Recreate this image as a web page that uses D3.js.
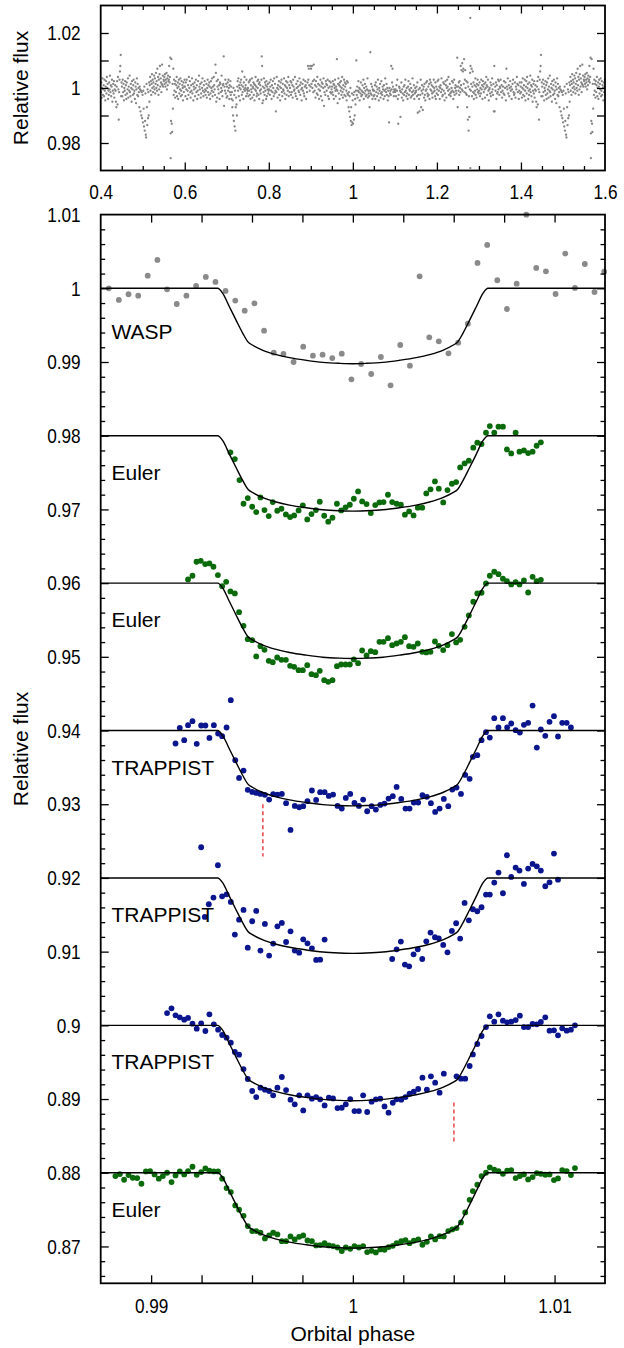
<!DOCTYPE html>
<html>
<head>
<meta charset="utf-8">
<script src="https://cdn.jsdelivr.net/npm/d3@7"></script>
<style>
  html, body { margin: 0; padding: 0; background: #fff; }
  svg { display: block; }
</style>
</head>
<body>
<svg id="chart" width="624" height="1348"></svg>
<script>
// ---------------------------------------------------------------------------
// Survey photometry, phase-folded; one cycle from phase 0.4 to 1.4.
// Each string covers 0.05 in phase, one character per measurement:
// flux = 1 + (charCode - 77) * 0.0005   ('M' = 1.000)
// ---------------------------------------------------------------------------
const surveySegments = [
  "JQFMTHLOGSKDNRIUMPEKHQLVJOGNSCKPIRFLOKC?NRAUL6JSY]eGQ",
  "NGSJPDMKRHOEQILTFNKVJGPMCRLHOSIKEQNBLTHPGMJ?NL<K9J7H",
  "4K>1N.5I+)P?2L7J9QCOUKRHPWMSJQNVLTIPXMRK[OUHSLW]NTQJP^OVNS",
  "RUPWNSQXLTOVRS]QUc,5b3-P>[HSKPFRJOUGMQENSIPLTGKRHOMDQJNS",
  "NGQLSEKOHUMRJFOKTIPDNLQGMSJOEKRHVNLPFIQMTKGOJRLH",
  "KPFMSJOHQNEIRMKTGNJUOLH^XCRFNSLIOEQPJMVKGOPd@NKSIPF",
  "NGQKSMEOJRHNEJ?D9M5H1K.?FA9NRKTGOMDQLSOHYJNEQLUKMOGSLIK",
  "MGQKRHSEOLJTFNMQHPDLOUKNGIRMSHPEQKOILSd]BNDJTMHQKOERGNLPIK",
  "LQHNSKEOJRMGTIPK<JUMFOLRHNDQMSJGPLKTIOENRHMQKUGOJ",
  "MRHQJOFSNKLUIGPMERNKJTOHQLDMPKSIGNROEMJQ]S[OK]N",
  "[P]MRJ^SKOFRNIUHPLEOKSGNQDPMT@JNHRPKOSGMERNJQIL",
  "NJRHPEOMSKGNLbKBPTIOEQNKRHMUJFOLSHQNGPKDRIQH?J<G8M5?2I4D",
  "3H6J9EAKaHNFKRJMDLIQGKHOJSEMIPKGNHLTFKIG?KgIPHNELKG",
  "KHOEQJNGLSIDMKPFIRJHNLEOKGTLJPHMDKG4MIKH]LQ[NJGLK",
  "JLGOKSE3HNMK8JQFLIDNHOJSKGMIENRHLKPFMGJTHKOEIMJ",
  "KNGQ;HLE<MHS?KOI=LNFPHDKQLRIGNHPESLQKOIFNJSMKGQENI",
  "LRHSKNEMOJTLGHQKPDIROFMSNKUHLPIGJMRKQEJSHMOKINc?",
  "NKQHRMJ]OZL_KY[PbJSZMIRH?Q6N.G8LX]KP[GNYJQEIOKTHNFPLSJOI",
  "KQGMISLOERNJPLFQMUOHNSKDLMIQGOJTLHP<]<NKQEOIJSLRHN",
  "MSJOFKNIRHMQD[NLTIOGMRKNELPSJHIQFNLUPJOEKQIN"
];
const surveyOutliers = [[0.5665, 0.9745], [1.2795, 1.0255], [1.2795, 0.9709]];

// ---------------------------------------------------------------------------
// Follow-up light curves (phase, relative flux); each offset below the last
// ---------------------------------------------------------------------------
const waspPhase = [0.98790,0.98840,0.98888,0.98936,0.98983,0.99031,0.99079,0.99127,0.99175,0.99223,0.99271,0.99319,0.99369,0.99417,0.99464,0.99512,0.99560,0.99608,0.99656,0.99706,0.99754,0.99802,0.99850,0.99898,0.99945,0.99993,1.00041,1.00091,1.00139,1.00187,1.00235,1.00283,1.00331,1.00379,1.00426,1.00474,1.00522,1.00570,1.00618,1.00666,1.00716,1.00764,1.00812,1.00860,1.00909,1.00957,1.01005,1.01053,1.01101,1.01150,1.01198,1.01246];
const waspFlux = [1.00000,0.99842,0.99919,0.99900,1.00172,1.00385,0.99986,0.99787,0.99900,1.00032,1.00154,1.00086,0.99964,0.99833,0.99697,0.99796,0.99425,0.99127,0.99109,0.99000,0.99208,0.99086,0.99100,0.99054,0.99113,0.98765,0.98973,0.98837,0.99068,0.98683,0.99231,0.98950,1.00163,0.99335,0.99281,0.99118,0.99262,0.99520,1.00344,1.00588,1.00109,0.99719,1.00063,1.00999,1.00276,1.00231,0.99923,1.00471,1.00005,1.00330,0.99950,1.00226];

const euler1Phase = [0.99393,0.99415,0.99438,0.99458,0.99479,0.99501,0.99521,0.99542,0.99562,0.99583,0.99603,0.99625,0.99646,0.99668,0.99689,0.99709,0.99731,0.99752,0.99774,0.99795,0.99817,0.99836,0.99858,0.99878,0.99899,0.99921,0.99942,0.99964,0.99985,1.00005,1.00026,1.00046,1.00068,1.00089,1.00111,1.00132,1.00152,1.00174,1.00195,1.00217,1.00238,1.00258,1.00279,1.00301,1.00322,1.00344,1.00364,1.00385,1.00407,1.00426,1.00448,1.00469,1.00491,1.00512,1.00532,1.00554,1.00575,1.00597,1.00617,1.00638,1.00660,1.00679,1.00701,1.00722,1.00744,1.00764,1.00785,1.00807,1.00826,1.00848,1.00869,1.00891,1.00911,1.00932];
const euler1Flux = [0.97774,0.97683,0.97398,0.97077,0.97154,0.97036,0.96964,0.97163,0.96991,0.96910,0.97100,0.96982,0.97009,0.96932,0.96896,0.96919,0.96986,0.97054,0.96864,0.96937,0.96991,0.97104,0.96914,0.96833,0.96887,0.97077,0.96986,0.97027,0.97063,0.97145,0.97244,0.97109,0.97072,0.96950,0.97059,0.97095,0.97100,0.97199,0.97100,0.97077,0.97063,0.96928,0.96973,0.96919,0.97023,0.97023,0.97217,0.97272,0.97380,0.97281,0.97095,0.97262,0.97348,0.97371,0.97570,0.97624,0.97661,0.97837,0.97905,0.97887,0.98041,0.98131,0.98041,0.98122,0.98122,0.97814,0.97760,0.98041,0.97783,0.97801,0.97765,0.97783,0.97864,0.97910];

const euler2Phase = [0.99183,0.99205,0.99225,0.99246,0.99268,0.99289,0.99309,0.99331,0.99352,0.99372,0.99393,0.99415,0.99436,0.99458,0.99479,0.99501,0.99521,0.99542,0.99562,0.99583,0.99603,0.99625,0.99646,0.99668,0.99689,0.99709,0.99731,0.99752,0.99774,0.99795,0.99817,0.99836,0.99858,0.99878,0.99899,0.99921,0.99942,0.99964,0.99985,1.00005,1.00026,1.00046,1.00068,1.00089,1.00111,1.00132,1.00152,1.00174,1.00195,1.00217,1.00238,1.00258,1.00279,1.00301,1.00322,1.00344,1.00364,1.00385,1.00407,1.00426,1.00448,1.00469,1.00491,1.00512,1.00532,1.00554,1.00575,1.00597,1.00617,1.00638,1.00660,1.00679,1.00701,1.00722,1.00744,1.00764,1.00785,1.00807,1.00826,1.00848,1.00869,1.00891,1.00911,1.00932];
const euler2Flux = [0.96050,0.96100,0.96290,0.96303,0.96258,0.96267,0.96222,0.96109,0.95959,0.96018,0.95887,0.95860,0.95606,0.95421,0.95240,0.95226,0.95005,0.95145,0.95095,0.94946,0.94928,0.94991,0.94959,0.94959,0.94878,0.94864,0.94819,0.94819,0.94887,0.94765,0.94751,0.94810,0.94683,0.94661,0.94683,0.94873,0.94896,0.94896,0.94896,0.94964,0.94914,0.95086,0.95018,0.95077,0.95063,0.95204,0.95204,0.95253,0.95158,0.95181,0.95204,0.95267,0.95145,0.95136,0.95181,0.95068,0.95059,0.95068,0.95208,0.95149,0.95091,0.95158,0.95308,0.95195,0.95231,0.95407,0.95561,0.95747,0.95860,0.95869,0.95995,0.96100,0.96154,0.96122,0.96059,0.96027,0.95982,0.96014,0.95982,0.96036,0.95873,0.96086,0.96027,0.96045];

const trappist1Phase = [0.99121,0.99142,0.99164,0.99183,0.99205,0.99226,0.99248,0.99269,0.99289,0.99311,0.99332,0.99352,0.99374,0.99395,0.99417,0.99436,0.99458,0.99479,0.99501,0.99521,0.99542,0.99564,0.99585,0.99605,0.99626,0.99648,0.99669,0.99691,0.99712,0.99734,0.99754,0.99775,0.99797,0.99818,0.99838,0.99860,0.99881,0.99902,0.99924,0.99945,0.99965,0.99987,1.00008,1.00030,1.00051,1.00071,1.00093,1.00114,1.00136,1.00157,1.00177,1.00198,1.00217,1.00240,1.00261,1.00281,1.00302,1.00324,1.00345,1.00367,1.00387,1.00408,1.00430,1.00451,1.00473,1.00493,1.00514,1.00536,1.00557,1.00579,1.00595,1.00617,1.00638,1.00660,1.00679,1.00701,1.00722,1.00744,1.00765,1.00785,1.00807,1.00828,1.00848,1.00869,1.00891,1.00912,1.00932,1.00954,1.00975,1.00997,1.01017,1.01038,1.01060,1.01081];
const trappist1Flux = [0.93824,0.94036,0.93869,0.94072,0.94127,0.93819,0.94068,0.94068,0.93900,0.94072,0.93959,0.93923,0.94041,0.94412,0.93597,0.93357,0.93457,0.93195,0.93167,0.93154,0.93140,0.93127,0.93063,0.93136,0.93131,0.93140,0.93014,0.92652,0.92977,0.92959,0.92973,0.93041,0.93186,0.93059,0.93163,0.93163,0.93113,0.93131,0.92977,0.92941,0.93086,0.93140,0.93018,0.92977,0.93063,0.92905,0.92973,0.92928,0.92991,0.93009,0.93077,0.93109,0.93235,0.93072,0.92941,0.92941,0.93023,0.93023,0.93122,0.93100,0.93014,0.92896,0.92941,0.93072,0.92973,0.93199,0.93226,0.93140,0.93398,0.93344,0.93643,0.93665,0.93869,0.93977,0.93905,0.94167,0.94041,0.94167,0.94041,0.94095,0.94005,0.93973,0.94077,0.94104,0.94339,0.93769,0.94014,0.93928,0.94118,0.94195,0.93919,0.94104,0.94104,0.94041];

const trappist2Phase = [0.99248,0.99266,0.99286,0.99309,0.99331,0.99352,0.99374,0.99395,0.99415,0.99436,0.99458,0.99479,0.99501,0.99521,0.99542,0.99564,0.99585,0.99605,0.99626,0.99648,0.99669,0.99691,0.99712,0.99734,0.99754,0.99775,0.99797,0.99818,0.99838,0.99860,1.00195,1.00217,1.00238,1.00258,1.00279,1.00301,1.00322,1.00344,1.00364,1.00385,1.00407,1.00426,1.00448,1.00469,1.00491,1.00512,1.00532,1.00554,1.00575,1.00595,1.00617,1.00638,1.00660,1.00679,1.00701,1.00722,1.00744,1.00764,1.00785,1.00807,1.00826,1.00848,1.00869,1.00891,1.00912,1.00932,1.00954,1.00975,1.00997,1.01017];
const trappist2Flux = [0.92416,0.91471,0.91643,0.91733,0.92172,0.91751,0.91778,0.91674,0.91231,0.91434,0.91566,0.91054,0.91412,0.91552,0.91014,0.91376,0.90946,0.91109,0.91344,0.91389,0.91131,0.91276,0.91014,0.90986,0.91167,0.91113,0.91045,0.90887,0.90891,0.91163,0.90900,0.91032,0.91136,0.90824,0.90801,0.90964,0.91032,0.90900,0.91140,0.91258,0.91195,0.91181,0.91091,0.90991,0.91281,0.91385,0.91177,0.91661,0.91425,0.91575,0.91548,0.91602,0.91774,0.91774,0.91937,0.92072,0.91792,0.92308,0.92014,0.92140,0.92100,0.91919,0.92127,0.92190,0.92158,0.92100,0.91887,0.91941,0.92330,0.91977];

const trappist3Phase = [0.99079,0.99101,0.99121,0.99142,0.99164,0.99183,0.99205,0.99226,0.99248,0.99269,0.99289,0.99311,0.99332,0.99352,0.99374,0.99395,0.99415,0.99436,0.99458,0.99479,0.99501,0.99521,0.99542,0.99564,0.99585,0.99605,0.99626,0.99648,0.99669,0.99691,0.99712,0.99734,0.99754,0.99775,0.99797,0.99818,0.99838,0.99860,0.99881,0.99902,0.99924,0.99945,0.99965,0.99987,1.00008,1.00030,1.00051,1.00071,1.00093,1.00114,1.00136,1.00157,1.00177,1.00198,1.00217,1.00240,1.00261,1.00281,1.00302,1.00324,1.00345,1.00367,1.00387,1.00408,1.00430,1.00451,1.00514,1.00536,1.00557,1.00579,1.00595,1.00617,1.00638,1.00660,1.00679,1.00701,1.00722,1.00744,1.00765,1.00785,1.00807,1.00828,1.00848,1.00869,1.00891,1.00912,1.00932,1.00954,1.00975,1.00997,1.01017,1.01038,1.01060,1.01081,1.01101];
const trappist3Flux = [0.90167,0.90231,0.90136,0.90109,0.90077,0.90100,0.90023,0.89955,0.90027,0.89923,0.90149,0.90014,0.89941,0.89869,0.89833,0.89765,0.89638,0.89602,0.89407,0.89272,0.89109,0.89027,0.89154,0.89127,0.89109,0.89050,0.89154,0.89299,0.89122,0.88991,0.88928,0.89050,0.88846,0.89050,0.89005,0.89027,0.88996,0.88914,0.89018,0.89009,0.88878,0.88882,0.88928,0.89000,0.88837,0.88837,0.89050,0.88824,0.88964,0.88996,0.89005,0.88900,0.88815,0.88950,0.88996,0.88991,0.89027,0.89072,0.89100,0.89136,0.89290,0.89127,0.89308,0.89222,0.89086,0.89344,0.89308,0.89276,0.89276,0.89448,0.89606,0.89747,0.89855,0.89977,0.90122,0.90050,0.90149,0.90063,0.90041,0.90050,0.90072,0.90131,0.89977,0.89977,0.90018,0.90014,0.90045,0.90109,0.89928,0.89932,0.89864,0.89959,0.89928,0.89941,0.90000];

const euler3Phase = [0.98823,0.98845,0.98866,0.98888,0.98909,0.98931,0.98952,0.98974,0.98995,0.99017,0.99038,0.99058,0.99079,0.99101,0.99121,0.99142,0.99164,0.99183,0.99205,0.99226,0.99248,0.99269,0.99289,0.99311,0.99332,0.99352,0.99374,0.99395,0.99417,0.99436,0.99458,0.99479,0.99501,0.99521,0.99542,0.99564,0.99585,0.99605,0.99626,0.99648,0.99669,0.99691,0.99712,0.99734,0.99754,0.99775,0.99797,0.99818,0.99838,0.99860,0.99881,0.99902,0.99924,0.99945,0.99965,0.99987,1.00008,1.00030,1.00051,1.00071,1.00093,1.00114,1.00136,1.00157,1.00177,1.00198,1.00217,1.00240,1.00261,1.00281,1.00302,1.00324,1.00345,1.00367,1.00387,1.00408,1.00430,1.00451,1.00473,1.00493,1.00514,1.00536,1.00557,1.00579,1.00595,1.00617,1.00638,1.00660,1.00679,1.00701,1.00722,1.00744,1.00765,1.00785,1.00807,1.00828,1.00848,1.00869,1.00891,1.00912,1.00932,1.00954,1.00975,1.00997,1.01017,1.01038,1.01060,1.01081,1.01101];
const euler3Flux = [0.87955,0.87982,0.87905,0.87968,0.87932,0.87928,0.87851,0.88018,0.88023,0.87977,0.87919,0.87955,0.88000,0.87873,0.87964,0.88018,0.87977,0.88023,0.88081,0.87973,0.88009,0.88059,0.88027,0.88018,0.88018,0.87919,0.87792,0.87738,0.87557,0.87498,0.87416,0.87276,0.87208,0.87208,0.87186,0.87109,0.87149,0.87186,0.87163,0.87072,0.87072,0.87136,0.87095,0.87131,0.87149,0.87081,0.87072,0.87014,0.87018,0.87045,0.87014,0.87005,0.86986,0.86937,0.86986,0.86968,0.87005,0.86986,0.87005,0.86923,0.86941,0.86919,0.86959,0.86955,0.86991,0.87009,0.87045,0.87072,0.87086,0.87045,0.87077,0.87095,0.87023,0.87063,0.87136,0.87095,0.87140,0.87136,0.87208,0.87231,0.87249,0.87326,0.87462,0.87633,0.87751,0.87837,0.87955,0.88000,0.88072,0.88041,0.88023,0.87986,0.88027,0.88036,0.87928,0.87955,0.87977,0.87910,0.87941,0.87995,0.87986,0.87973,0.87977,0.87900,0.87923,0.88036,0.88023,0.87968,0.88063];

// Transit model, flux change relative to the out-of-transit level
const modelPhase = [0.9875,0.99330,0.99355,0.99388,0.99421,0.99455,0.99480,0.99504,0.99554,0.99620,0.99686,0.99769,0.99851,0.99934,1.00000,1.00066,1.00149,1.00231,1.00314,1.00380,1.00446,1.00496,1.00520,1.00545,1.00579,1.00612,1.00645,1.00670,1.0125];
const modelDelta = [0,0,-0.00068,-0.00250,-0.00432,-0.00614,-0.00727,-0.00773,-0.00841,-0.00900,-0.00941,-0.00977,-0.01005,-0.01018,-0.01023,-0.01018,-0.01005,-0.00977,-0.00941,-0.00900,-0.00841,-0.00773,-0.00727,-0.00614,-0.00432,-0.00250,-0.00068,0,0];

// Light-curve order, instruments and out-of-transit levels
const curveInstruments = ["WASP", "Euler", "Euler", "TRAPPIST", "TRAPPIST", "TRAPPIST", "Euler"];
const curveBaselines = [1.00, 0.98, 0.96, 0.94, 0.92, 0.90, 0.88];
const curvePhases = [waspPhase, euler1Phase, euler2Phase, trappist1Phase, trappist2Phase, trappist3Phase, euler3Phase];
const curveFluxes = [waspFlux, euler1Flux, euler2Flux, trappist1Flux, trappist2Flux, trappist3Flux, euler3Flux];

// Dashed markers under two TRAPPIST light curves
const markerPhase = [0.99554, 1.00501];
const markerTop = [0.93000, 0.88954];
const markerBottom = [0.92290, 0.88400];

// Tick labels
const topXLabels = ["0.4", "0.6", "0.8", "1", "1.2", "1.4", "1.6"];
const topYLabels = ["0.98", "1", "1.02"];
const botXLabels = ["0.99", "1", "1.01"];
const botYLabels = ["0.87", "0.88", "0.89", "0.9", "0.91", "0.92", "0.93", "0.94", "0.95", "0.96", "0.97", "0.98", "0.99", "1", "1.01"];

// ---------------------------------------------------------------------------
// Layout and styling
// ---------------------------------------------------------------------------
const FONT = "'Liberation Sans', Arial, Helvetica, sans-serif";
const instrumentColor = { WASP: "#8a8a8a", Euler: "#0b6a0b", TRAPPIST: "#0a158e" };
const labelDrop = [51, 44, 44, 44, 44, 44, 44];
const plotLeft = 100.7, plotRight = 605;

const svg = d3.select("#chart");

const xTop = d3.scaleLinear().domain([0.4, 1.6]).range([plotLeft, plotRight]);
const yTop = d3.scaleLinear().domain([0.97, 1.03]).range([170.5, 5.5]);
const xBot = d3.scaleLinear().domain([0.9875, 1.0125]).range([plotLeft, plotRight]);
const yBot = d3.scaleLinear().domain([0.865, 1.01]).range([1283.3, 214.6]);

const r3 = v => Math.round(v * 100000) / 100000;

// ---------------------------------------------------------------------------
// Top panel: survey photometry
// ---------------------------------------------------------------------------
const surveyPoints = [];
surveySegments.forEach((seg, k) => {
  const n = seg.length;
  for (let j = 0; j < n; j++) {
    const p = 0.4 + 0.05 * k + 0.05 * (j + 0.5) / n;
    const f = 1 + (seg.charCodeAt(j) - 77) * 0.0005;
    surveyPoints.push([p, f]);
    if (p + 1 <= 1.6) surveyPoints.push([p + 1, f]);
  }
});
surveyOutliers.forEach(([p, f]) => {
  surveyPoints.push([p, f]);
  if (p + 1 <= 1.6) surveyPoints.push([p + 1, f]);
});

svg.append("g").selectAll("circle").data(surveyPoints).join("circle")
  .attr("cx", d => xTop(d[0])).attr("cy", d => yTop(d[1]))
  .attr("r", 1.15).attr("fill", "#858585");

// ---------------------------------------------------------------------------
// Bottom panel: follow-up light curves with transit model
// ---------------------------------------------------------------------------
svg.append("clipPath").attr("id", "botClip").append("rect")
  .attr("x", plotLeft).attr("y", yBot(1.01))
  .attr("width", plotRight - plotLeft).attr("height", yBot(0.865) - yBot(1.01));

const modelLine = d3.line().x(d => xBot(d[0])).y(d => yBot(d[1])).curve(d3.curveMonotoneX);

curveInstruments.forEach((inst, i) => {
  const pts = curvePhases[i].map((p, j) => [p, curveFluxes[i][j]]);
  svg.append("g").selectAll("circle").data(pts).join("circle")
    .attr("cx", d => xBot(d[0])).attr("cy", d => yBot(d[1]))
    .attr("r", 2.9).attr("fill", instrumentColor[inst]);
});

curveBaselines.forEach(b => {
  const pts = modelPhase.map((p, j) => [p, b + modelDelta[j]]);
  svg.append("path").datum(pts)
    .attr("d", modelLine).attr("fill", "none")
    .attr("stroke", "#000").attr("stroke-width", 1.4)
    .attr("clip-path", "url(#botClip)");
});

markerPhase.forEach((p, i) => {
  svg.append("line")
    .attr("x1", xBot(p)).attr("x2", xBot(p))
    .attr("y1", yBot(markerTop[i])).attr("y2", yBot(markerBottom[i]))
    .attr("stroke", "#e8393a").attr("stroke-width", 1.4)
    .attr("stroke-dasharray", "4,3");
});

curveInstruments.forEach((inst, i) => {
  svg.append("text")
    .attr("x", 111.5).attr("y", yBot(curveBaselines[i]) + labelDrop[i])
    .attr("font-family", FONT).attr("font-size", 21).attr("fill", "#000")
    .text(inst);
});

// ---------------------------------------------------------------------------
// Frames and axes (inward ticks on all four sides)
// ---------------------------------------------------------------------------
function tickMarks(axisGen, scale, values, len, transform) {
  const g = svg.append("g").attr("transform", transform);
  g.call(axisGen(scale).tickValues(values).tickSizeInner(-len).tickSizeOuter(0).tickFormat(() => ""));
  g.select(".domain").remove();
  g.selectAll(".tick line").attr("stroke", "#000").attr("stroke-width", 1.3);
  return g;
}
function tickLabels(axisGen, scale, labels, pad, transform) {
  const g = svg.append("g").attr("transform", transform);
  g.call(axisGen(scale).tickValues(labels.map(Number)).tickSize(0).tickPadding(pad)
    .tickFormat((d, i) => labels[i]));
  g.select(".domain").remove();
  g.selectAll(".tick line").remove();
  g.attr("font-family", FONT).attr("font-size", 21);
  g.selectAll(".tick text").attr("fill", "#000").each(function () {
    const w = this.getComputedTextLength();
    d3.select(this).attr("textLength", w * 0.82).attr("lengthAdjust", "spacingAndGlyphs");
  });
  return g;
}
function frame(y) {
  const [y0, y1] = y.range();
  svg.append("rect")
    .attr("x", plotLeft).attr("y", y1)
    .attr("width", plotRight - plotLeft).attr("height", y0 - y1)
    .attr("fill", "none").attr("stroke", "#000").attr("stroke-width", 1.8);
}

// top panel ticks
const topXMajor = topXLabels.map(Number).filter(v => v > 0.4 && v < 1.6);
const topXMinor = d3.range(9, 32).map(k => r3(k * 0.05)).filter(v => !topXMajor.includes(v));
const topYTicks = d3.range(98, 103).map(k => r3(k * 0.01));
[[d3.axisBottom, 170.5], [d3.axisTop, 5.5]].forEach(([gen, yy]) => {
  tickMarks(gen, xTop, topXMajor, 8, `translate(0,${yy})`);
  tickMarks(gen, xTop, topXMinor, 4.5, `translate(0,${yy})`);
});
tickMarks(d3.axisLeft, yTop, topYTicks, 8, `translate(${plotLeft},0)`);
tickMarks(d3.axisRight, yTop, topYTicks, 8, `translate(${plotRight},0)`);
frame(yTop);
tickLabels(d3.axisBottom, xTop, topXLabels, 14, "translate(0,170.5)");
tickLabels(d3.axisLeft, yTop, topYLabels, 20, `translate(${plotLeft},0)`);

// bottom panel ticks
const botXTicks = d3.range(-4, 5).map(k => r3(1 + k * 0.0025));
const botYMajor = botYLabels.map(Number).filter(v => v < 1.01);
const botYMinor = d3.range(433, 505).map(k => r3(k * 0.002)).filter(v => !botYMajor.some(m => Math.abs(m - v) < 1e-6));
tickMarks(d3.axisBottom, xBot, botXTicks, 8, "translate(0,1283.3)");
tickMarks(d3.axisTop, xBot, botXTicks, 8, "translate(0,214.6)");
[[d3.axisLeft, plotLeft], [d3.axisRight, plotRight]].forEach(([gen, xx]) => {
  tickMarks(gen, yBot, botYMajor, 8, `translate(${xx},0)`);
  tickMarks(gen, yBot, botYMinor, 4.5, `translate(${xx},0)`);
});
frame(yBot);
tickLabels(d3.axisBottom, xBot, botXLabels, 15, "translate(0,1283.3)");
tickLabels(d3.axisLeft, yBot, botYLabels, 20, `translate(${plotLeft},0)`);

// axis titles
function yTitle(cy) {
  svg.append("text")
    .attr("transform", `translate(28,${cy}) rotate(-90)`)
    .attr("text-anchor", "middle")
    .attr("font-family", FONT).attr("font-size", 21).attr("fill", "#000")
    .text("Relative flux");
}
yTitle((yTop.range()[0] + yTop.range()[1]) / 2);
yTitle((yBot.range()[0] + yBot.range()[1]) / 2);
svg.append("text")
  .attr("x", (plotLeft + plotRight) / 2).attr("y", 1341)
  .attr("text-anchor", "middle")
  .attr("font-family", FONT).attr("font-size", 21).attr("fill", "#000")
  .text("Orbital phase");
</script>
</body>
</html>
